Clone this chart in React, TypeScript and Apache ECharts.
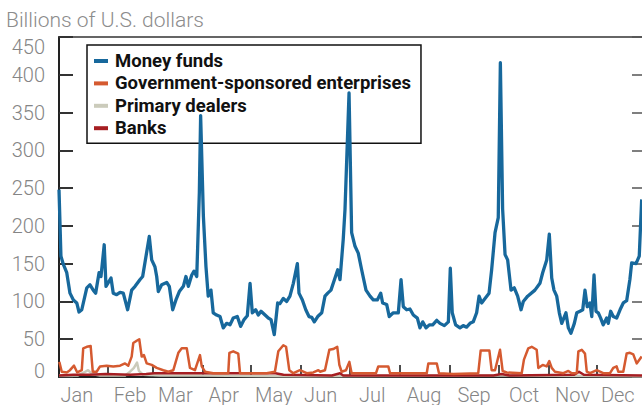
import { useEffect, useRef } from 'react';
import * as echarts from 'echarts';

// x values are days of the year (0 = Jan 1)
const MONTHS = ['Jan', 'Feb', 'Mar', 'Apr', 'May', 'Jun', 'Jul', 'Aug', 'Sep', 'Oct', 'Nov', 'Dec'];
const MONTH_START_DAYS = [31, 59, 90, 120, 151, 181, 212, 243, 273, 304, 334];
const MONTH_LABEL_DAYS = [12, 45, 73, 103, 134, 163, 195, 227, 258, 289, 319, 347];
const FIRST_DAY = 1;
const LAST_DAY = 362;
const Y_MIN = 0;
const Y_MAX = 450;
const Y_STEP = 50;

const moneyFunds: [number, number][] = [
  [1.0, 248], [2.2, 160], [3.7, 149], [5.8, 138], [7.8, 111], [9.9, 102], [12.0, 98], [13.4, 86],
  [15.1, 89], [18.2, 118], [20.2, 122], [22.2, 115], [23.7, 111], [25.8, 138], [27.0, 133], [29.0, 175],
  [30.1, 120], [31.5, 125], [33.2, 131], [34.6, 111], [36.7, 109], [38.8, 112], [40.8, 111], [43.5, 89],
  [46.0, 115], [48.1, 120], [51.2, 129], [52.8, 133], [56.9, 186], [58.4, 155], [60.4, 146], [61.5, 133],
  [62.5, 113], [64.6, 122], [67.7, 125], [69.3, 120], [71.4, 89], [73.4, 102], [75.5, 113], [78.0, 120],
  [79.6, 133], [81.1, 120], [83.2, 135], [84.6, 140], [86.3, 133], [87.9, 244], [88.7, 346], [90.4, 213],
  [92.0, 146], [93.4, 107], [95.1, 115], [96.5, 85], [98.6, 82], [100.7, 80], [102.7, 65], [104.8, 71],
  [106.9, 69], [108.9, 78], [111.4, 80], [113.5, 67], [115.6, 76], [117.6, 81], [119.3, 124], [120.7, 85],
  [122.8, 89], [124.4, 82], [126.1, 87], [128.6, 82], [130.6, 78], [132.3, 76], [134.3, 56], [136.4, 98],
  [137.8, 97], [139.9, 104], [142.0, 100], [144.0, 107], [146.1, 124], [148.6, 150], [149.6, 111], [151.7, 102],
  [153.8, 89], [155.8, 80], [157.5, 79], [159.1, 73], [161.2, 80], [163.7, 85], [165.7, 107], [167.4, 111],
  [169.4, 115], [171.9, 131], [173.6, 142], [175.0, 129], [177.0, 182], [178.1, 222], [180.6, 376], [182.2, 191],
  [184.3, 173], [186.3, 164], [188.4, 142], [191.1, 115], [193.6, 107], [195.6, 102], [198.1, 102], [200.2, 111],
  [201.4, 98], [203.9, 96], [205.5, 80], [208.0, 85], [211.1, 85], [212.8, 129], [214.2, 93], [216.3, 89],
  [218.3, 90], [220.4, 82], [222.9, 78], [224.5, 65], [226.2, 73], [228.3, 65], [230.3, 69], [232.4, 69],
  [234.9, 75], [236.9, 71], [239.6, 68], [242.1, 73], [243.3, 144], [244.5, 85], [246.6, 69], [249.3, 65],
  [251.3, 68], [253.4, 66], [255.5, 71], [257.5, 73], [259.6, 85], [261.1, 107], [262.7, 98], [264.8, 104],
  [267.3, 111], [268.9, 142], [271.0, 191], [273.0, 211], [274.3, 416], [275.7, 222], [277.2, 162], [278.8, 155],
  [280.9, 115], [282.9, 118], [285.0, 107], [287.1, 89], [288.5, 100], [291.2, 107], [295.7, 115], [298.8, 124],
  [300.5, 138], [303.0, 155], [304.6, 189], [306.1, 131], [307.5, 115], [309.2, 107], [310.8, 85], [312.3, 71],
  [314.9, 85], [316.4, 65], [318.0, 58], [320.1, 71], [321.6, 85], [323.6, 87], [325.3, 89], [326.7, 115],
  [328.1, 93], [329.8, 98], [330.9, 80], [332.3, 135], [333.5, 87], [334.9, 85], [336.4, 78], [338.0, 69],
  [340.1, 78], [341.1, 71], [342.6, 87], [344.2, 80], [346.3, 78], [348.4, 89], [350.4, 98], [352.5, 101],
  [354.5, 129], [355.6, 151], [358.3, 150], [360.3, 160], [361.8, 235],
];

const gse: [number, number][] = [
  [1.2, 20], [2.7, 7], [5.8, 6], [7.8, 9], [10.3, 15], [12.3, 6], [15.1, 9], [16.0, 38], [18.2, 40],
  [20.6, 41], [21.9, 7], [24.3, 7], [26.4, 14], [30.5, 15], [34.6, 14], [38.8, 15], [41.9, 18], [43.9, 15],
  [46.0, 27], [47.0, 45], [49.1, 48], [50.7, 50], [52.2, 27], [53.6, 29], [55.3, 18], [58.4, 16], [61.5, 12],
  [65.6, 9], [68.7, 7], [71.8, 9], [74.9, 32], [77.0, 38], [80.1, 38], [82.1, 12], [85.2, 9], [88.3, 29],
  [89.4, 14], [91.4, 7], [96.5, 5], [105.8, 5], [106.5, 32], [108.9, 34], [112.0, 31], [113.1, 5], [121.3, 5],
  [129.6, 5], [134.7, 7], [136.8, 34], [139.9, 42], [141.6, 40], [143.6, 9], [146.1, 5], [150.2, 9], [154.4, 5],
  [158.5, 6], [161.6, 9], [162.6, 7], [165.7, 9], [168.4, 36], [170.8, 37], [173.3, 40], [174.6, 16], [176.0, 7],
  [178.7, 9], [180.8, 20], [182.2, 5], [193.6, 5], [197.3, 5], [198.7, 14], [204.9, 14], [206.0, 5], [220.4, 5],
  [228.7, 5], [229.7, 18], [234.9, 18], [236.3, 5], [245.2, 4], [260.6, 5], [262.1, 35], [267.5, 35], [268.9, 9],
  [271.0, 9], [274.1, 36], [275.7, 8], [278.2, 6], [287.5, 5], [288.9, 23], [291.6, 38], [293.7, 40], [296.8, 36],
  [297.8, 12], [300.5, 16], [303.0, 14], [304.6, 21], [306.1, 12], [308.1, 7], [313.3, 5], [316.4, 8], [318.5, 5],
  [321.6, 5], [322.6, 34], [324.7, 36], [326.7, 31], [327.8, 7], [329.8, 5], [334.0, 9], [338.0, 5], [342.2, 5],
  [344.2, 12], [346.3, 14], [347.3, 7], [350.4, 7], [352.5, 31], [354.5, 32], [356.6, 30], [358.7, 18], [361.8, 27],
];

const primaryDealers: [number, number][] = [
  [1, 2], [12.8, 2], [16.5, 6], [19, 9], [21.4, 4], [26.4, 2], [41.9, 2], [45, 7], [47.4, 12], [49.3, 19],
  [50.5, 8], [53, 3], [63.5, 2], [88.3, 2], [150, 1], [274, 2], [362, 1],
];

const banks: [number, number][] = [
  [1, 2], [10, 3], [20, 3], [30, 4], [45, 3], [55, 4], [60, 5], [90, 5], [120, 5], [135, 5], [140, 3],
  [170, 2], [175, 5], [177, 2], [230, 2], [270, 2], [275, 4], [280, 2], [320, 3], [323, 7], [326, 3], [362, 2],
];

const SERIES_NAMES = ['Money funds', 'Government-sponsored enterprises', 'Primary dealers', 'Banks'];
const COLORS = ['#17689c', '#d55a30', '#cbcbbb', '#a61e22'];

const FONT = 'Roboto, "Noto Sans", sans-serif';
const LABEL_GRAY = '#858585';

export default function App() {
  const ref = useRef<HTMLDivElement>(null);
  useEffect(() => {
    if (!ref.current) return;
    const chart = echarts.init(ref.current, undefined, { renderer: 'svg' });
    const labelStyle = { fontSize: 20, fontWeight: 300, color: LABEL_GRAY, fontFamily: FONT };
    const line = (name: string, data: [number, number][], color: string, width: number, z: number) => ({
      name,
      type: 'line',
      data,
      xAxisIndex: 0,
      yAxisIndex: 0,
      color,
      symbol: 'none',
      z,
      lineStyle: { color, width, join: 'round' },
      itemStyle: { color },
    });
    chart.setOption({
      animation: false,
      backgroundColor: '#ffffff',
      title: {
        text: 'Billions of U.S. dollars',
        left: 6,
        top: 9,
        padding: 0,
        textStyle: { fontSize: 21, fontWeight: 300, color: '#8c8c8c', fontFamily: FONT },
      },
      legend: {
        data: SERIES_NAMES,
        orient: 'vertical',
        left: 87,
        top: 45,
        padding: [6, 10, 5, 7],
        itemGap: 2.4,
        itemWidth: 14,
        itemHeight: 4,
        icon: 'rect',
        backgroundColor: '#ffffff',
        borderColor: '#111111',
        borderWidth: 1.5,
        borderRadius: 0,
        textStyle: {
          fontSize: 18.5,
          fontWeight: 'bold',
          color: '#111111',
          fontFamily: FONT,
          lineHeight: 20,
          padding: [0, 0, 0, 2],
        },
      },
      grid: { left: 59, right: 0, top: 37, bottom: 28, containLabel: false, outerBoundsMode: 'none' },
      xAxis: [
        {
          type: 'value',
          position: 'bottom',
          min: FIRST_DAY,
          max: LAST_DAY,
          axisLine: { show: true, onZero: false, lineStyle: { color: '#222222', width: 2 } },
          axisTick: {
            show: true,
            inside: true,
            length: 12,
            customValues: MONTH_START_DAYS,
            lineStyle: { color: '#111111', width: 1.5 },
          },
          axisLabel: {
            ...labelStyle,
            lineHeight: 18,
            margin: 9,
            customValues: MONTH_LABEL_DAYS,
            formatter: (v: number) => MONTHS[MONTH_LABEL_DAYS.indexOf(Math.round(v))] ?? '',
          },
          splitLine: { show: false },
        },
        {
          type: 'value',
          position: 'top',
          min: FIRST_DAY,
          max: LAST_DAY,
          axisLine: { show: true, onZero: false, lineStyle: { color: '#333333', width: 1.5 } },
          axisTick: { show: false },
          axisLabel: { show: false },
          splitLine: { show: false },
        },
      ],
      yAxis: [
        {
          type: 'value',
          position: 'left',
          min: Y_MIN,
          max: Y_MAX,
          interval: Y_STEP,
          axisLine: { show: true, onZero: false, lineStyle: { color: '#222222', width: 2 } },
          axisTick: { show: true, inside: true, length: 14, lineStyle: { color: '#333333', width: 2 } },
          axisLabel: {
            ...labelStyle,
            margin: 14,
            formatter: (v: number) => (v === Y_MAX ? `{top|${v}}` : v === Y_MIN ? `{bot|${v}}` : `${v}`),
            rich: {
              top: { ...labelStyle, padding: [20, 0, 0, 0] },
              bot: { ...labelStyle, padding: [0, 0, 12, 0] },
            },
          },
          splitLine: { show: false },
        },
        {
          type: 'value',
          position: 'right',
          min: Y_MIN,
          max: Y_MAX,
          interval: Y_STEP,
          axisLine: { show: false },
          axisTick: { show: true, inside: true, length: 10, lineStyle: { color: '#555555', width: 1.5 } },
          axisLabel: { show: false },
          splitLine: { show: false },
        },
      ],
      series: [
        line(SERIES_NAMES[2], primaryDealers, COLORS[2], 2.5, 2),
        line(SERIES_NAMES[3], banks, COLORS[3], 2.5, 3),
        line(SERIES_NAMES[1], gse, COLORS[1], 2.5, 4),
        line(SERIES_NAMES[0], moneyFunds, COLORS[0], 3.3, 5),
      ],
    });
    return () => chart.dispose();
  }, []);
  return <div ref={ref} style={{ width: 642, height: 405, position: 'absolute', left: 0, top: 0 }} />;
}
